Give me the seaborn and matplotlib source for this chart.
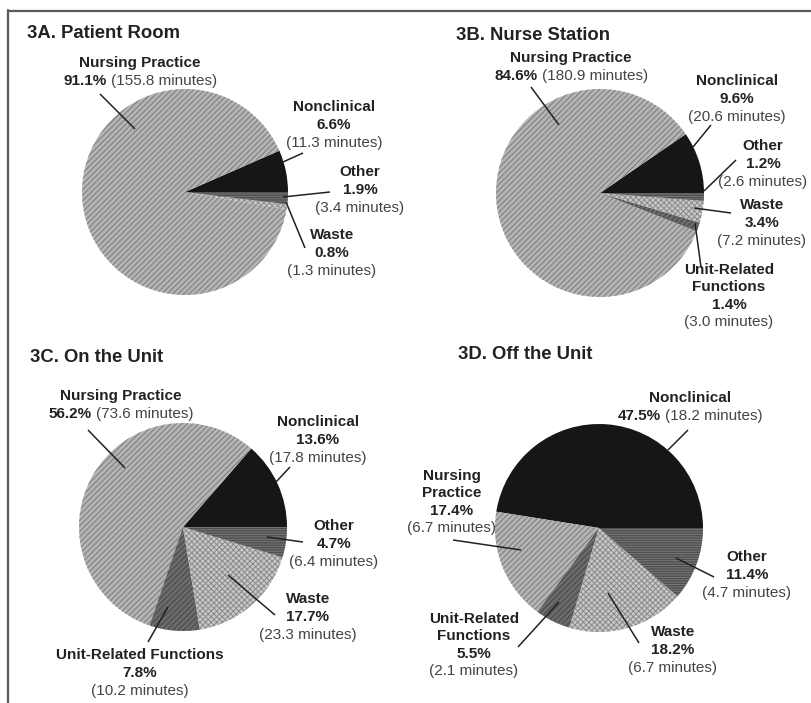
import matplotlib
matplotlib.use("Agg")
import matplotlib.pyplot as plt
import seaborn as sns
from matplotlib.offsetbox import TextArea, HPacker, VPacker, AnnotationBbox
from matplotlib.lines import Line2D

# ---------------- data ----------------
cats_A = ["Nonclinical", "Nursing Practice", "Waste", "Other"]
pct_A = [6.6, 91.1, 0.8, 1.9]
min_A = [11.3, 155.8, 1.3, 3.4]

cats_B = ["Nonclinical", "Nursing Practice", "Unit-Related Functions", "Waste", "Other"]
pct_B = [9.6, 84.6, 1.4, 3.4, 1.2]
min_B = [20.6, 180.9, 3.0, 7.2, 2.6]

cats_C = ["Nonclinical", "Nursing Practice", "Unit-Related Functions", "Waste", "Other"]
pct_C = [13.6, 56.2, 7.8, 17.7, 4.7]
min_C = [17.8, 73.6, 10.2, 23.3, 6.4]

cats_D = ["Nonclinical", "Nursing Practice", "Unit-Related Functions", "Waste", "Other"]
pct_D = [47.5, 17.4, 5.5, 18.2, 11.4]
min_D = [18.2, 6.7, 2.1, 6.7, 4.7]

titles = ["3A. Patient Room", "3B. Nurse Station", "3C. On the Unit", "3D. Off the Unit"]

# ---------------- style ----------------
sns.set_theme(style="white")
plt.rcParams['font.family'] = ['Liberation Sans', 'DejaVu Sans']
plt.rcParams['hatch.linewidth'] = 0.7

styles = {
    "Nonclinical": dict(fc="#161616", ec="#161616", hatch=None),
    "Nursing Practice": dict(fc="#b4b4b4", ec="#7a7a7a", hatch="//////"),
    "Unit-Related Functions": dict(fc="#585858", ec="#7e7e7e", hatch="//////"),
    "Waste": dict(fc="#c8c8c8", ec="#8a8a8a", hatch="xxxxxx"),
    "Other": dict(fc="#4e4e4e", ec="#7a7a7a", hatch="-------"),
}

W, H = 812, 703
fig = plt.figure(figsize=(W / 100, H / 100), dpi=100)
ax = fig.add_axes([0, 0, 1, 1])
FS = 11.0
TFS = 13.3
LSEP = 2.6


def P(x, y):
    return (x, H - y)


# label layout: category -> (x, y, name lines, inline pct, leader line)
layout = [
    dict(title_xy=(27, 33), center=(185, 192), r=103, cats=cats_A, pct=pct_A, mins=min_A,
         labels={
             "Nursing Practice": (140, 72, ["Nursing Practice"], True, ((100, 94), (135, 129))),
             "Nonclinical": (334, 125, ["Nonclinical"], False, ((303, 153), (283, 162))),
             "Other": (360, 190, ["Other"], False, ((330, 192), (283, 197))),
             "Waste": (332, 253, ["Waste"], False, ((305, 248), (286, 202))),
         }),
    dict(title_xy=(456, 36), center=(600, 193), r=104, cats=cats_B, pct=pct_B, mins=min_B,
         labels={
             "Nursing Practice": (571, 67, ["Nursing Practice"], True, ((531, 87), (559, 125))),
             "Nonclinical": (737, 99, ["Nonclinical"], False, ((711, 125), (693, 147))),
             "Other": (763, 164, ["Other"], False, ((736, 160), (704, 191))),
             "Waste": (762, 223, ["Waste"], False, ((731, 213), (694, 208))),
             "Unit-Related Functions": (729, 296, ["Unit-Related", "Functions"], False, ((701, 267), (695, 223))),
         }),
    dict(title_xy=(30, 358), center=(183, 527), r=104, cats=cats_C, pct=pct_C, mins=min_C,
         labels={
             "Nursing Practice": (121, 405, ["Nursing Practice"], True, ((88, 430), (125, 468))),
             "Nonclinical": (318, 440, ["Nonclinical"], False, ((290, 467), (276, 482))),
             "Other": (334, 544, ["Other"], False, ((303, 542), (267, 537))),
             "Waste": (308, 617, ["Waste"], False, ((275, 615), (228, 575))),
             "Unit-Related Functions": (140, 673, ["Unit-Related Functions"], False, ((148, 642), (168, 607))),
         }),
    dict(title_xy=(458, 355), center=(599, 528), r=104, cats=cats_D, pct=pct_D, mins=min_D,
         labels={
             "Nonclinical": (690, 407, ["Nonclinical"], True, ((688, 430), (668, 450))),
             "Nursing Practice": (452, 502, ["Nursing", "Practice"], False, ((453, 540), (521, 550))),
             "Other": (747, 575, ["Other"], False, ((714, 577), (676, 558))),
             "Waste": (673, 650, ["Waste"], False, ((639, 643), (608, 593))),
             "Unit-Related Functions": (474, 645, ["Unit-Related", "Functions"], False, ((518, 647), (559, 602))),
         }),
]


def make_label(x, y, name_lines, pct, mins, inline):
    bold = dict(fontsize=FS, fontweight='bold', color='#222222')
    norm = dict(fontsize=FS, color='#444444')
    rows = [TextArea(n, textprops=bold) for n in name_lines]
    pct_s = f"{pct:.1f}%"
    min_s = f"({mins:.1f} minutes)"
    if inline:
        rows.append(HPacker(children=[TextArea(pct_s, textprops=bold),
                                      TextArea(min_s, textprops=norm)],
                            pad=0, sep=3, align='baseline'))
    else:
        rows += [TextArea(pct_s, textprops=bold), TextArea(min_s, textprops=norm)]
    box = VPacker(children=rows, align='center', pad=0, sep=LSEP)
    ab = AnnotationBbox(box, P(x, y), xycoords='data', frameon=False,
                        box_alignment=(0.5, 0.5), pad=0)
    ax.add_artist(ab)


for title, pnl in zip(titles, layout):
    cx, cy = pnl["center"]
    wedges, _ = ax.pie(pnl["pct"], center=P(cx, cy), radius=pnl["r"], startangle=0,
                       counterclock=True,
                       colors=[styles[c]["fc"] for c in pnl["cats"]],
                       wedgeprops=dict(linewidth=0))
    for w, c in zip(wedges, pnl["cats"]):
        st = styles[c]
        w.set_edgecolor(st["ec"])
        if st["hatch"]:
            w.set_hatch(st["hatch"])
    ax.text(*P(*pnl["title_xy"]), title, fontsize=TFS, fontweight='bold',
            ha='left', va='center', color='#222222')
    for c, p, m in zip(pnl["cats"], pnl["pct"], pnl["mins"]):
        x, y, names, inline, leader = pnl["labels"][c]
        make_label(x, y, names, p, m, inline)
        (x1, y1), (x2, y2) = leader
        ax.plot([x1, x2], [H - y1, H - y2], color='#222222', lw=1.1, solid_capstyle='butt')

ax.set_xlim(0, W)
ax.set_ylim(0, H)
ax.set_aspect('equal')
ax.axis('off')

# outer frame (top and left edges)
fig.add_artist(Line2D([8 / W, 1], [1 - 10.5 / H, 1 - 10.5 / H], transform=fig.transFigure,
                      color="#5a5a5a", lw=1.6))
fig.add_artist(Line2D([8.5 / W, 8.5 / W], [0, 1 - 10 / H], transform=fig.transFigure,
                      color="#5a5a5a", lw=1.6))

fig.savefig("out.png", dpi=100, facecolor="white")
